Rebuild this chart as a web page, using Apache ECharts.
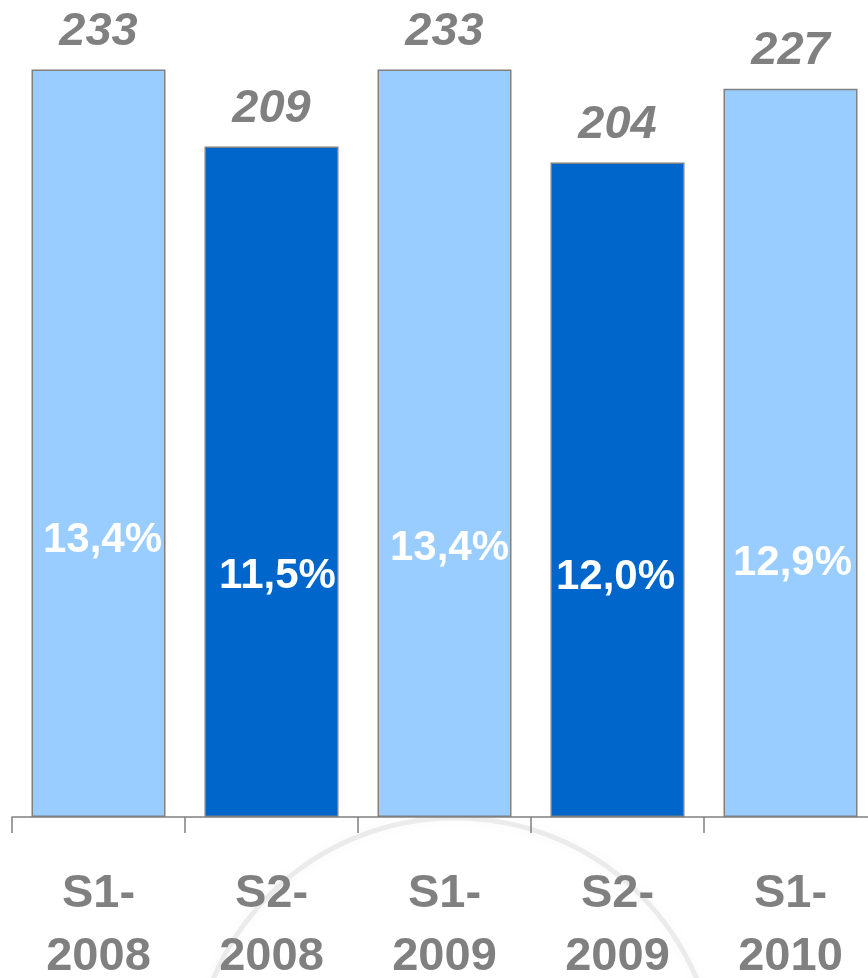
<!DOCTYPE html>
<html>
<head>
<meta charset="utf-8">
<script src="https://cdn.jsdelivr.net/npm/echarts@6/dist/echarts.min.js"></script>
<style>
  html, body { margin: 0; padding: 0; background: #ffffff; }
  #chart { width: 868px; height: 978px; }
</style>
</head>
<body>
<div id="chart"></div>
<script>
// Half-year periods
const periods = ['S1-\n2008', 'S2-\n2008', 'S1-\n2009', 'S2-\n2009', 'S1-\n2010'];
// Amount per half-year
const amounts = [233, 209, 233, 204, 227];
// Ratio shown inside each bar (%)
const ratios = ['13,4%', '11,5%', '13,4%', '12,0%', '12,9%'];

// Presentation: bar fills alternate light / dark blue
const barFills = ['#99CCFF', '#0066CC', '#99CCFF', '#0066CC', '#99CCFF'];
// Height of each ratio label above the axis (px) and small horizontal nudge
const ratioLift = [256, 220, 248, 219, 233];
const ratioShift = [4, 6, 5, -2, 2];

const FONT = '"Liberation Sans", Arial, sans-serif';
const GREY = '#808080';

const chart = echarts.init(document.getElementById('chart'), null, { renderer: 'canvas' });

chart.setOption({
  backgroundColor: '#ffffff',
  animation: false,
  graphic: [
    {
      type: 'circle',
      z: -10,
      shape: { cx: 455, cy: 1080, r: 262 },
      style: {
        fill: 'none',
        stroke: 'rgba(215,215,215,0.45)',
        lineWidth: 5,
        shadowBlur: 12,
        shadowColor: 'rgba(0,0,0,0.08)'
      },
      silent: true
    }
  ],
  grid: {
    left: 12, right: -9, top: 15, bottom: 161,
    containLabel: false,
    outerBoundsMode: 'none'
  },
  xAxis: {
    type: 'category',
    data: periods,
    axisLine: { show: true, lineStyle: { color: GREY, width: 1.5 } },
    axisTick: { show: true, length: 16, alignWithLabel: false, lineStyle: { color: GREY, width: 1.5 } },
    axisLabel: {
      color: GREY,
      fontFamily: FONT,
      fontWeight: 'bold',
      fontSize: 47,
      lineHeight: 63,
      margin: 46,
      interval: 0
    }
  },
  yAxis: {
    type: 'value',
    min: 0,
    max: 250,
    show: false,
    splitLine: { show: false }
  },
  series: [
    {
      type: 'bar',
      barWidth: 134,
      data: amounts.map((v, i) => ({
        value: v,
        itemStyle: { color: barFills[i] }
      })),
      itemStyle: { borderColor: GREY, borderWidth: 1.5 },
      label: {
        show: true,
        position: 'top',
        distance: 14,
        color: GREY,
        fontFamily: FONT,
        fontWeight: 'bold',
        fontStyle: 'italic',
        fontSize: 47
      },
      z: 2
    },
    {
      // Transparent overlay carrying the ratio labels
      type: 'bar',
      barWidth: 134,
      barGap: '-100%',
      silent: true,
      data: amounts.map((v, i) => ({
        value: v,
        label: {
          formatter: ratios[i],
          distance: ratioLift[i],
          offset: [ratioShift[i], 0]
        }
      })),
      itemStyle: { color: 'rgba(0,0,0,0)' },
      label: {
        show: true,
        position: 'insideBottom',
        color: '#ffffff',
        fontFamily: FONT,
        fontWeight: 'bold',
        fontSize: 42
      },
      z: 3
    }
  ]
});
</script>
</body>
</html>
